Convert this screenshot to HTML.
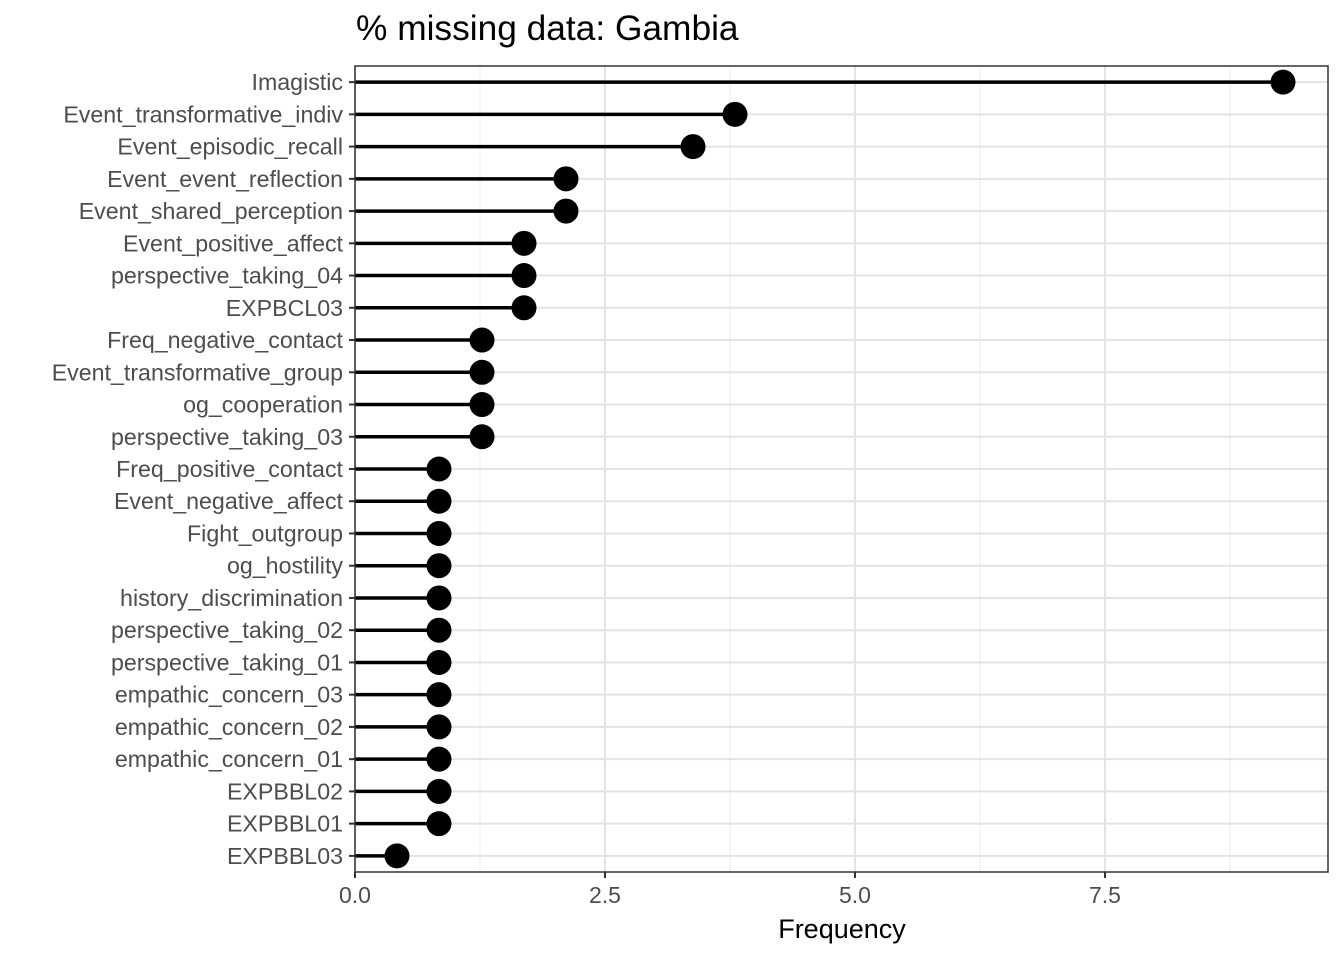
<!DOCTYPE html>
<html><head><meta charset="utf-8"><style>
body{margin:0;background:#fff;}
svg text{font-family:"Liberation Sans",Arial,sans-serif;}
</style></head><body>
<svg id="chart" width="1344" height="960" xmlns="http://www.w3.org/2000/svg">
<text x="356" y="40" font-size="35.3" fill="#000">% missing data: Gambia</text>
<g id="grid"></g><g id="marks"></g><g id="axes"></g>
<text x="842" y="938" font-size="27" text-anchor="middle" fill="#000">Frequency</text>
</svg>
<script>
const categories=["Imagistic","Event_transformative_indiv","Event_episodic_recall","Event_event_reflection","Event_shared_perception","Event_positive_affect","perspective_taking_04","EXPBCL03","Freq_negative_contact","Event_transformative_group","og_cooperation","perspective_taking_03","Freq_positive_contact","Event_negative_affect","Fight_outgroup","og_hostility","history_discrimination","perspective_taking_02","perspective_taking_01","empathic_concern_03","empathic_concern_02","empathic_concern_01","EXPBBL02","EXPBBL01","EXPBBL03"];
const values=[9.28,3.80,3.38,2.11,2.11,1.69,1.69,1.69,1.27,1.27,1.27,1.27,0.84,0.84,0.84,0.84,0.84,0.84,0.84,0.84,0.84,0.84,0.84,0.84,0.42];
const xTicks=[0,2.5,5,7.5];
const xTickLabels=["0.0","2.5","5.0","7.5"];
const NS="http://www.w3.org/2000/svg";
const L=355,R=1328,T=66,B=872;
const xMax=(R-L)/100;
const x=v=>L+v/xMax*(R-L);
const step=(B-T)/categories.length;
const y=i=>T+step*(i+0.5);
function mk(tag,attrs,parent){const e=document.createElementNS(NS,tag);for(const k in attrs)e.setAttribute(k,attrs[k]);document.getElementById(parent).appendChild(e);return e;}
for(let i=0;i<xTicks.length;i++){const m=xTicks[i]+1.25;if(m<xMax){const g=mk("line",{x1:x(m),x2:x(m),y1:T,y2:B,stroke:"#f0f0f0","stroke-width":1.2},"grid");

}}
xTicks.forEach((t,i)=>{const g=mk("line",{x1:x(t),x2:x(t),y1:T,y2:B,stroke:"#e3e3e3","stroke-width":2},"grid");


const tk=mk("line",{x1:x(t),x2:x(t),y1:B,y2:B+6,stroke:"#333","stroke-width":2},"axes");


const tl=mk("text",{x:x(t),y:B+31,"font-size":23,"text-anchor":"middle",fill:"#4d4d4d"},"axes");tl.textContent=xTickLabels[i];

});
categories.forEach((c,i)=>{const g=mk("line",{x1:L,x2:R,y1:y(i),y2:y(i),stroke:"#e3e3e3","stroke-width":2},"grid");


const ln=mk("line",{x1:x(0),x2:x(values[i]),y1:y(i),y2:y(i),stroke:"#000","stroke-width":3.5},"marks");


const d=mk("circle",{cx:x(values[i]),cy:y(i),r:12.5,fill:"#000"},"marks");


const tk=mk("line",{x1:L-6,x2:L,y1:y(i),y2:y(i),stroke:"#333","stroke-width":2},"axes");


const tl=mk("text",{x:L-12,y:y(i)+8,"font-size":23.2,"text-anchor":"end",fill:"#4d4d4d"},"axes");tl.textContent=c;

});
const f=mk("rect",{x:L,y:T,width:R-L,height:B-T,fill:"none",stroke:"#333","stroke-width":1.5},"axes");


</script>
</body></html>
